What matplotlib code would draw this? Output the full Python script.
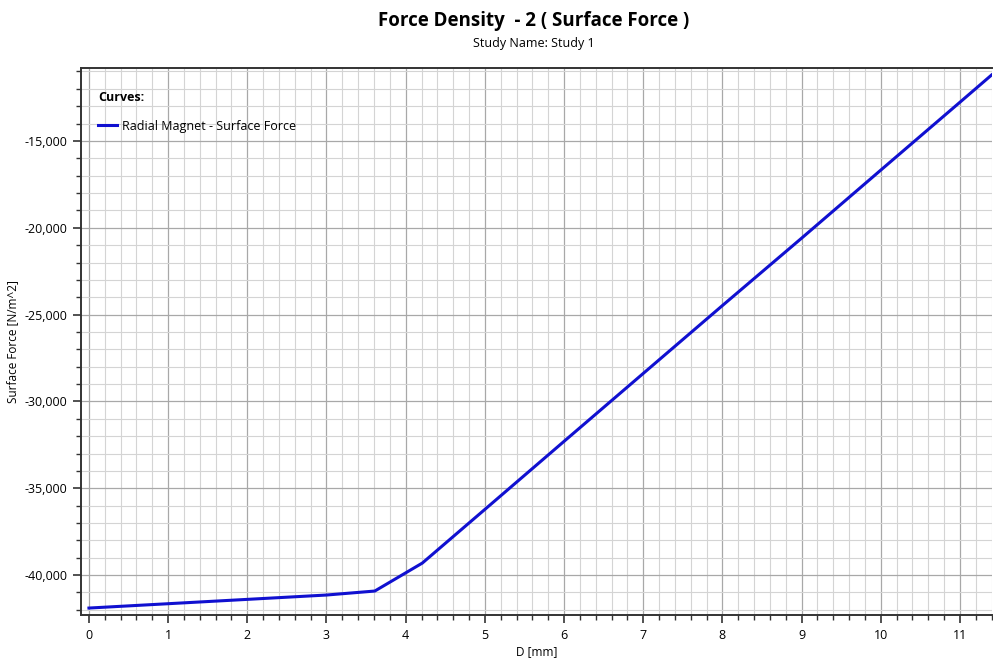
import numpy as np
import matplotlib
matplotlib.use('Agg')
import matplotlib.pyplot as plt
from matplotlib.ticker import MultipleLocator, FuncFormatter

# data
distance_mm = [0.0, 1.0, 2.0, 3.0, 3.61, 4.21, 5.0, 6.0, 7.0, 8.0, 9.0, 10.0, 11.0, 11.4]
surface_force = [-41900, -41650, -41400, -41150, -40920, -39310,
                 -36220, -32300, -28390, -24480, -20600, -16680, -12770, -11200]
series_label = 'Radial Magnet - Surface Force'

plt.rcParams['font.family'] = ['Open Sans', 'DejaVu Sans']

fig = plt.figure(figsize=(9.93, 6.63), dpi=100)
ax = fig.add_axes([0.0816, 0.0724, 0.917, 0.825])

ax.plot(distance_mm, surface_force, color='#1010d0', linewidth=2.2, label=series_label)

ax.set_xlim(-0.1, 11.4)
ax.set_ylim(-42300, -10800)

ax.xaxis.set_major_locator(MultipleLocator(1))
ax.xaxis.set_minor_locator(MultipleLocator(0.2))
ax.yaxis.set_major_locator(MultipleLocator(5000))
ax.yaxis.set_minor_locator(MultipleLocator(1000))
ax.yaxis.set_major_formatter(FuncFormatter(lambda v, p: f'{v:,.0f}'))

ax.grid(True, which='major', color='#a8a8a8', linewidth=0.9)
ax.grid(True, which='minor', color='#d4d4d4', linewidth=0.8)
ax.set_axisbelow(True)

ax.tick_params(which='major', direction='out', length=6, width=1.2, color='#333333', labelsize=9, pad=4)
ax.tick_params(which='minor', direction='out', length=3.5, width=1.0, color='#333333')
ax.tick_params(axis='x', which='both', top=False)
ax.tick_params(axis='y', which='both', right=False)

for side in ['left', 'bottom', 'top']:
    ax.spines[side].set_color('#333333')
    ax.spines[side].set_linewidth(1.4)
ax.spines['right'].set_visible(False)

ax.set_xlabel('D [mm]', fontsize=8.5, labelpad=2)
ax.set_ylabel('Surface Force [N/m^2]', fontsize=8.5, labelpad=4)

# legend block: bold heading plus a single entry, placed like the original
ax.text(0.0187, 0.947, 'Curves:', transform=ax.transAxes, ha='left', va='center',
        fontsize=9, fontweight='bold')
ax.legend(loc='center left', bbox_to_anchor=(0.0187, 0.894), frameon=False, fontsize=9,
          handlelength=1.5, handletextpad=0.4, borderpad=0, borderaxespad=0)

fig.text(0.5375, 0.968, 'Force Density  - 2 ( Surface Force )', ha='center', va='center',
         fontsize=13.5, fontweight='bold')
fig.text(0.5375, 0.935, 'Study Name: Study 1', ha='center', va='center', fontsize=9)

fig.savefig('out.png', dpi=100)
